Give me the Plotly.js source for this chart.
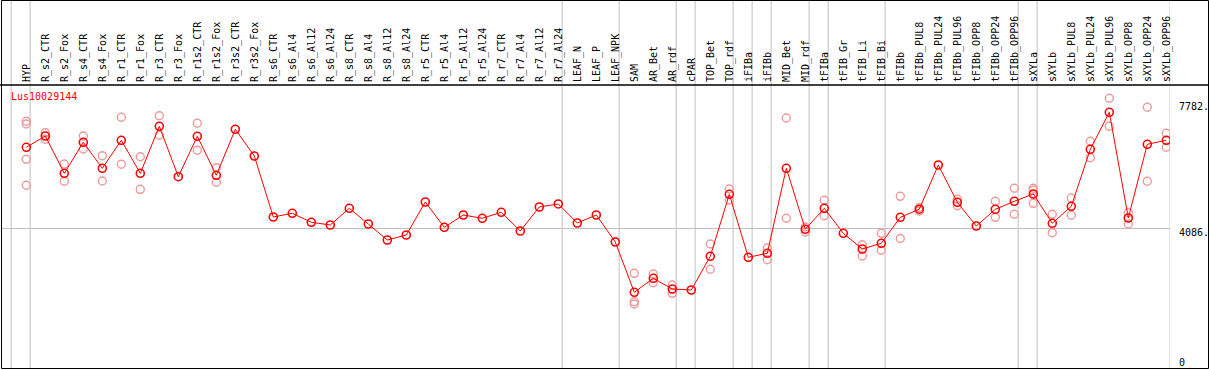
<!DOCTYPE html>
<html>
<head>
<meta charset="utf-8">
<script src="https://cdn.plot.ly/plotly-3.0.1.min.js"></script>
<style>html,body{margin:0;padding:0;background:#fff;}#chart{width:1209px;height:370px;}</style>
</head>
<body>
<div id="chart"></div>
<script>
const geneName = "Lus10029144";
const categories = ["HYP","R_s2_CTR","R_s2_Fox","R_s4_CTR","R_s4_Fox","R_r1_CTR","R_r1_Fox","R_r3_CTR","R_r3_Fox","R_r1s2_CTR","R_r1s2_Fox","R_r3s2_CTR","R_r3s2_Fox","R_s6_CTR","R_s6_Al4","R_s6_Al12","R_s6_Al24","R_s8_CTR","R_s8_Al4","R_s8_Al12","R_s8_Al24","R_r5_CTR","R_r5_Al4","R_r5_Al12","R_r5_Al24","R_r7_CTR","R_r7_Al4","R_r7_Al12","R_r7_Al24","LEAF_N","LEAF_P","LEAF_NPK","SAM","AR_Bet","AR_rdf","cPAR","TOP_Bet","TOP_rdf","iFIBa","iFIBb","MID_Bet","MID_rdf","tFIBa","tFIB_Gr","tFIB_Li","tFIB_Bi","tFIBb","tFIBb_PUL8","tFIBb_PUL24","tFIBb_PUL96","tFIBb_OPP8","tFIBb_OPP24","tFIBb_OPP96","sXYLa","sXYLb","sXYLb_PUL8","sXYLb_PUL24","sXYLb_PUL96","sXYLb_OPP8","sXYLb_OPP24","sXYLb_OPP96"];
const meanValues = [6472,6806,5703,6620,5851,6679,5703,7093,5603,6798,5644,7005,6215,4411,4521,4255,4175,4669,4204,3731,3879,4855,4107,4470,4373,4550,3997,4707,4796,4234,4470,3672,2185,2599,2282,2253,3249,5083,3220,3338,5851,4048,4669,3929,3465,3634,4402,4642,5949,4846,4145,4639,4876,5091,4225,4728,6413,7507,4382,6561,6679];
const replicateValues = [
 [7241,7161,6117,5349],[6904,6709],[5978,5467],[6806,6422],[6224,5476],[7359,5970],[6194,5230],[7407,6827],[],[7182,6384],[5869,5437],[],[],
 [],[],[],[],[],[],[],[],[],[],[],[],[],[],[],[],[],[],[],
 [2746,1907,1839],[2726,2469],[2401,2155],[],[3613,2865],[5239,4914],[],[3495,3149],[7339,4373],[3968,4116],[4905,4450],[],[3592,3258],[3929,3427],
 [5023,3776],[4589,4692],[],[4935,4745],[],[4876,4402],[5260,4491],
 [5260,5201,4816],[4491,3947],[4973,4462],[6650,6165],[7921,7093],[4538,4204],[7655,5467],[6886,6472]
];
const groupLastIndex = [-1,0,28,31,34,35,37,38,39,41,42,45,52,53,60];
const axisLabelValues = [7782,4086,0];
const axisLabelText = ["7782.","4086.","0"];
const gridValue = 4086;

const idx = categories.map((c,i)=>i);
const repX = [], repY = [];
replicateValues.forEach((arr,i)=>arr.forEach(v=>{repX.push(i);repY.push(v);}));

const mono = "DejaVu Sans Mono, monospace";
const traces = [
 {x:repX, y:repY, type:"scatter", mode:"markers", hoverinfo:"skip",
  marker:{symbol:"circle-open", size:8, color:"#ef9a9a", line:{width:1.4, color:"#ef9a9a"}}},
 {x:idx, y:meanValues, type:"scatter", mode:"lines+markers",
  line:{color:"#ff0000", width:1},
  marker:{symbol:"circle-open", size:8, color:"#ff0000", line:{width:1.6, color:"#ff0000"}}}
];

const plotW = 1168, plotH = 284;
const topPaper = 1 + 85/plotH;
const shapes = [];
groupLastIndex.forEach(g=>{
  shapes.push({type:"line", xref:"x", yref:"paper", x0:g+0.2, x1:g+0.2, y0:0, y1:topPaper,
    line:{color:"#c0c0c0", width:1}, layer:"below"});
});
shapes.push({type:"line", xref:"paper", yref:"paper", x0:-2/plotW, x1:1208/plotW, y0:1, y1:1, line:{color:"#000", width:1.5}});
shapes.push({type:"rect", xref:"paper", yref:"paper", x0:-0.5/plotW, x1:1206.5/plotW, y0:0.5/plotH, y1:1+84.5/plotH, line:{color:"#000", width:1}});

const annotations = [
 {text:geneName, xref:"paper", yref:"paper", x:7/plotW, y:1-11.7/plotH, xanchor:"left", yanchor:"middle", showarrow:false,
  font:{family:mono, size:10, color:"#ff0000"}}
];
axisLabelValues.forEach((v,i)=>{
  annotations.push({text:axisLabelText[i], xref:"paper", yref:"y", x:1175/plotW, y:v, xanchor:"left", yanchor:"middle",
    yshift: v===0 ? 4 : -4, showarrow:false, font:{family:mono, size:10, color:"#000"}});
});

const layout = {
  width:1209, height:370,
  margin:{l:2, r:39, t:85, b:1, pad:0},
  paper_bgcolor:"#fff", plot_bgcolor:"#fff",
  showlegend:false,
  xaxis:{range:[-1.279,60.195], tickvals:idx, ticktext:categories, side:"top", tickangle:-90,
    showgrid:false, zeroline:false, showline:false, ticks:"", ticklabelstandoff:2,
    tickfont:{family:mono, size:10, color:"#000"}},
  yaxis:{range:[-83,8314], tickvals:[gridValue], showticklabels:false, showgrid:true, gridcolor:"#c0c0c0", gridwidth:1,
    zeroline:false, showline:false, ticks:""},
  shapes:shapes,
  annotations:annotations
};
Plotly.newPlot("chart", traces, layout, {displayModeBar:false, staticPlot:true});
</script>
</body>
</html>
